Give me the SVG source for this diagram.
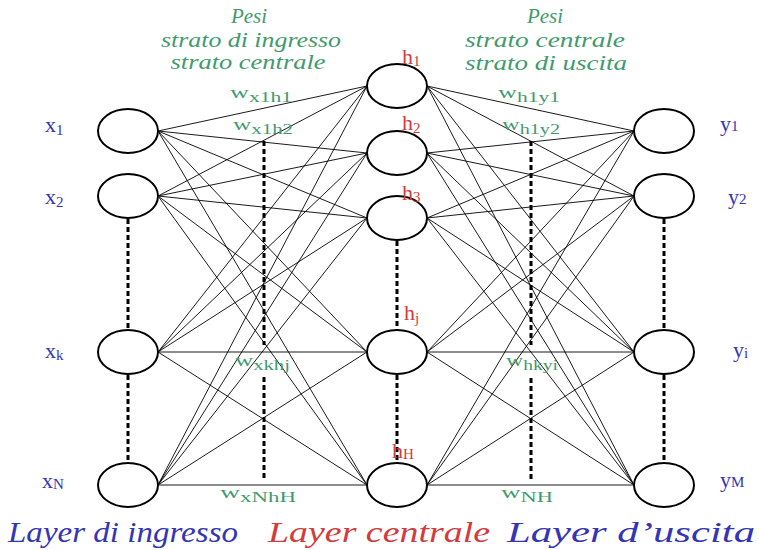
<svg xmlns="http://www.w3.org/2000/svg" width="761" height="550" viewBox="0 0 761 550">
<style>
.node{fill:#fff;stroke:#000;stroke-width:2}
.edge{stroke:#000;stroke-width:0.9;fill:none}
.dash{stroke:#000;stroke-width:3;stroke-dasharray:5 3;fill:none}
.blue{fill:#3434b4;font-family:"Liberation Serif",serif}
.red{fill:#d23c3c;font-family:"Liberation Serif",serif}
.green{fill:#3f9a6e;font-family:"Liberation Serif",serif}
.it{font-style:italic}
.lbl{font-size:22px}
.hl{font-size:22px}
.sub{font-size:15px}
.w{font-size:17px}
.ws{font-size:14px}
.title{font-size:21px}
.bottom{font-size:30px}
</style>
<rect width="761" height="550" fill="#fff"/>
<g id="connectors">
<path class="edge" d="M158,131L367,86M158,131L367,153M158,131L367,218M158,131L367,352M158,131L367,485
M158,196L367,86M158,196L367,153M158,196L367,218M158,196L367,352M158,196L367,485
M158,352L367,86M158,352L367,153M158,352L367,218M158,352L367,352M158,352L367,485
M158,485L367,86M158,485L367,153M158,485L367,218M158,485L367,352M158,485L367,485"/>
<path class="edge" d="M427,86L634,131M427,86L634,196M427,86L634,352M427,86L634,485
M427,153L634,131M427,153L634,196M427,153L634,352M427,153L634,485
M427,218L634,131M427,218L634,196M427,218L634,352M427,218L634,485
M427,352L634,131M427,352L634,196M427,352L634,352M427,352L634,485
M427,485L634,131M427,485L634,196M427,485L634,352M427,485L634,485"/>
<path class="dash" d="M128,219V329M128,375V462M397,241V329M397,375V462M664,219V329M664,375V462"/>
<path class="dash" d="M264,141V345M264,377V478M531,141V345M531,378V480"/>
</g>
<g id="input-x1"><ellipse class="node" cx="128" cy="131" rx="30" ry="22"/></g>
<g id="input-x2"><ellipse class="node" cx="128" cy="196" rx="30" ry="22"/></g>
<g id="input-xk"><ellipse class="node" cx="128" cy="352" rx="30" ry="22"/></g>
<g id="input-xN"><ellipse class="node" cx="128" cy="485" rx="30" ry="22"/></g>
<g id="hidden-h1"><ellipse class="node" cx="397" cy="86" rx="30" ry="22"/></g>
<g id="hidden-h2"><ellipse class="node" cx="397" cy="153" rx="30" ry="22"/></g>
<g id="hidden-h3"><ellipse class="node" cx="397" cy="218" rx="30" ry="22"/></g>
<g id="hidden-hj"><ellipse class="node" cx="397" cy="352" rx="30" ry="22"/></g>
<g id="hidden-hH"><ellipse class="node" cx="397" cy="485" rx="30" ry="22"/></g>
<g id="output-y1"><ellipse class="node" cx="664" cy="131" rx="30" ry="22"/></g>
<g id="output-y2"><ellipse class="node" cx="664" cy="196" rx="30" ry="22"/></g>
<g id="output-yi"><ellipse class="node" cx="664" cy="352" rx="30" ry="22"/></g>
<g id="output-yM"><ellipse class="node" cx="664" cy="485" rx="30" ry="22"/></g>
<g id="labels">
<text class="blue lbl" x="45" y="132">x<tspan class="sub" dy="3">1</tspan></text>
<text class="blue lbl" x="45" y="204">x<tspan class="sub" dy="3">2</tspan></text>
<text class="blue lbl" x="45" y="358">x<tspan class="sub" dy="2" font-size="12">k</tspan></text>
<text class="blue lbl" x="42" y="488">x<tspan class="sub" dy="1" font-size="14">N</tspan></text>
<text class="red hl" x="402" y="64">h<tspan class="sub" dy="2">1</tspan></text>
<text class="red hl" x="402" y="130">h<tspan class="sub" dy="3">2</tspan></text>
<text class="red hl" x="402" y="200">h<tspan class="sub" dy="2">3</tspan></text>
<text class="red hl" x="404" y="320">h<tspan class="sub" dy="3">j</tspan></text>
<text class="red hl" x="392" y="458">h<tspan class="sub" dy="1" font-size="14">H</tspan></text>
<text class="blue lbl" x="720" y="131">y<tspan class="sub" dy="0">1</tspan></text>
<text class="blue lbl" x="728" y="204">y<tspan class="sub" dy="0">2</tspan></text>
<text class="blue lbl" x="733" y="357">y<tspan class="sub" dy="1" font-size="12">i</tspan></text>
<text class="blue lbl" x="720" y="487">y<tspan class="sub" dy="0" font-size="13">M</tspan></text>
<text class="green it title" x="249" y="23" text-anchor="middle">Pesi</text>
<text class="green it title" x="251" y="47" text-anchor="middle" textLength="180" lengthAdjust="spacingAndGlyphs">strato di ingresso</text>
<text class="green it title" x="248" y="69" text-anchor="middle" textLength="155" lengthAdjust="spacingAndGlyphs">strato centrale</text>
<text class="green it title" x="545" y="23" text-anchor="middle">Pesi</text>
<text class="green it title" x="545" y="47" text-anchor="middle" textLength="160" lengthAdjust="spacingAndGlyphs">strato centrale</text>
<text class="green it title" x="546" y="70" text-anchor="middle" textLength="162" lengthAdjust="spacingAndGlyphs">strato di uscita</text>
<text class="green w" x="230" y="98" textLength="62" lengthAdjust="spacingAndGlyphs">w<tspan class="ws" dy="4">x1h1</tspan></text>
<text class="green w" x="233" y="130" textLength="60" lengthAdjust="spacingAndGlyphs">w<tspan class="ws" dy="4">x1h2</tspan></text>
<text class="green w" x="498" y="98" textLength="62" lengthAdjust="spacingAndGlyphs">w<tspan class="ws" dy="4">h1y1</tspan></text>
<text class="green w" x="502" y="130" textLength="58" lengthAdjust="spacingAndGlyphs">w<tspan class="ws" dy="4">h1y2</tspan></text>
<text class="green w" x="235" y="366" textLength="55" lengthAdjust="spacingAndGlyphs">w<tspan class="ws" dy="4">xkhj</tspan></text>
<text class="green w" x="506" y="366" textLength="52" lengthAdjust="spacingAndGlyphs">w<tspan class="ws" dy="4">hkyi</tspan></text>
<text class="green w" x="220" y="498" textLength="76" lengthAdjust="spacingAndGlyphs">w<tspan class="ws" dy="4">xNhH</tspan></text>
<text class="green w" x="501" y="498" textLength="52" lengthAdjust="spacingAndGlyphs">w<tspan class="ws" dy="4">NH</tspan></text>
<text class="blue it bottom" x="8" y="542" textLength="230" lengthAdjust="spacingAndGlyphs">Layer di ingresso</text>
<text class="red it bottom" x="268" y="542" textLength="222" lengthAdjust="spacingAndGlyphs">Layer centrale</text>
<text class="blue it bottom" x="507" y="542" textLength="248" lengthAdjust="spacingAndGlyphs">Layer d’uscita</text>
</g>
</svg>
